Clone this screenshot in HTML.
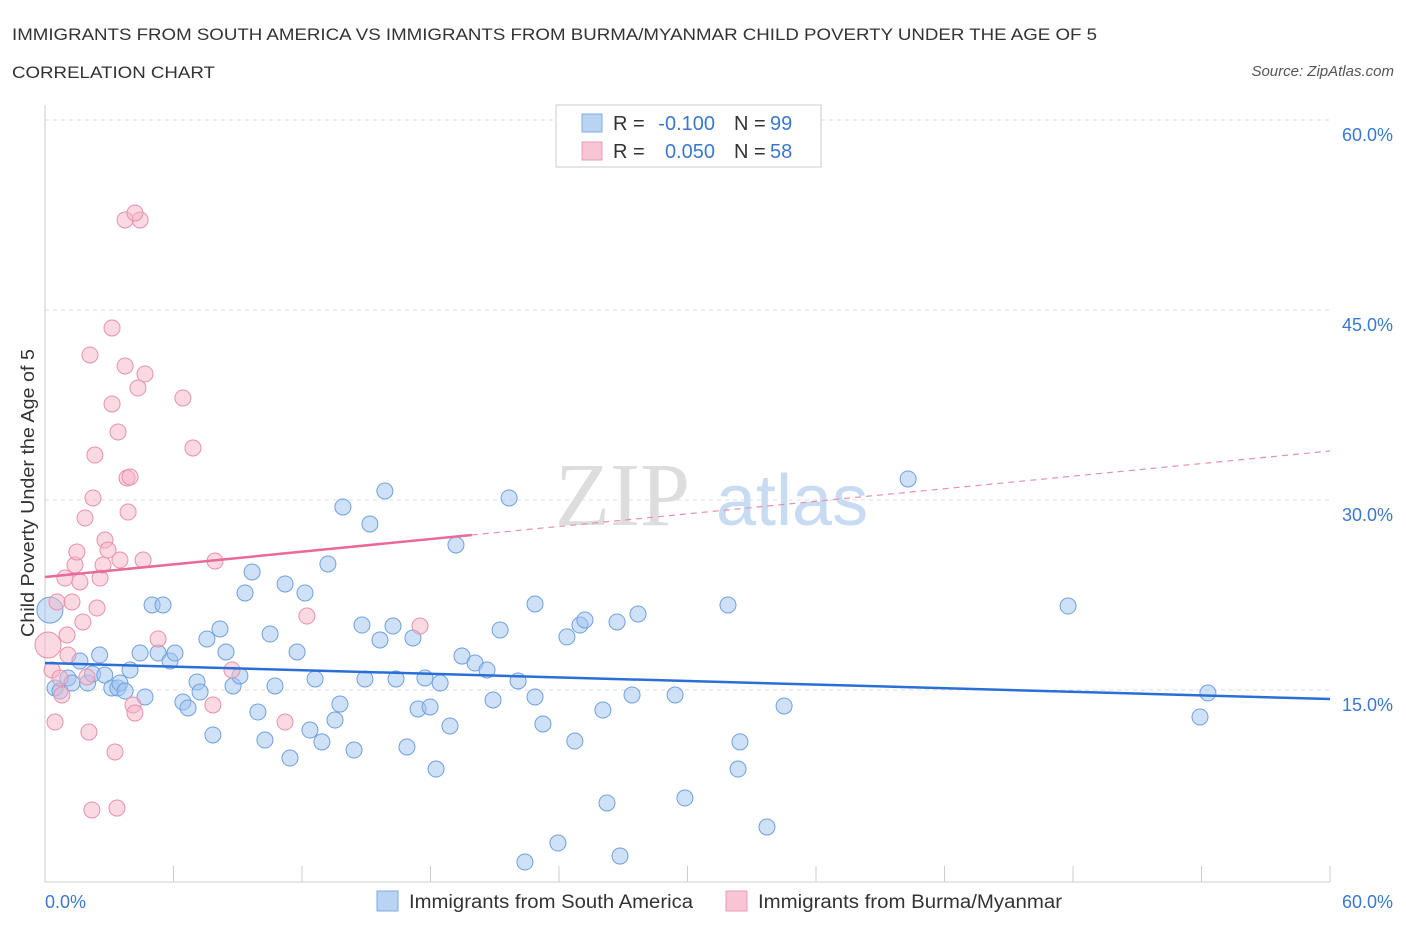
<!DOCTYPE html>
<html><head><meta charset="utf-8"><style>
body{margin:0;background:#fff;font-family:"Liberation Sans",sans-serif}
</style></head><body>
<svg id="chart" width="1406" height="930" xmlns="http://www.w3.org/2000/svg">
<text x="12" y="40" font-size="17" fill="#333" textLength="1085" lengthAdjust="spacingAndGlyphs">IMMIGRANTS FROM SOUTH AMERICA VS IMMIGRANTS FROM BURMA/MYANMAR CHILD POVERTY UNDER THE AGE OF 5</text>
<text x="12" y="78" font-size="17" fill="#333" textLength="203" lengthAdjust="spacingAndGlyphs">CORRELATION CHART</text>
<text x="1394" y="76" font-size="15" fill="#555" font-style="italic" text-anchor="end">Source: ZipAtlas.com</text>
<g><text x="555" y="525" font-size="90" font-family="Liberation Serif,serif" fill="#ddd">ZIP</text><text x="716" y="525" font-size="72" fill="#c7dbf2">atlas</text></g>
<g id="grid"></g><g id="ticks"></g>
<line x1="45" y1="105" x2="45" y2="882" stroke="#ccc"/>
<line x1="45" y1="882" x2="1330" y2="882" stroke="#ccc"/>
<text transform="translate(34,493) rotate(-90)" font-size="18" fill="#333" text-anchor="middle" textLength="288" lengthAdjust="spacingAndGlyphs">Child Poverty Under the Age of 5</text>
<text x="45" y="908" font-size="18" fill="#3a78d0">0.0%</text>
<text x="1393" y="908" font-size="18" fill="#3a78d0" text-anchor="end">60.0%</text>
<g id="pts"></g><g id="lines"></g>
<g>
<rect x="556" y="105" width="265" height="62" fill="#fff" stroke="#ccc"/>
<rect x="582" y="114" width="20" height="18" fill="#b9d3f3" stroke="#7ea9e3"/>
<rect x="582" y="142" width="20" height="18" fill="#f8c5d4" stroke="#ec9ab4"/>
<text x="613" y="130" font-size="20" fill="#333">R =</text>
<text x="715" y="130" font-size="20" fill="#3a78d0" text-anchor="end">-0.100</text>
<text x="734" y="130" font-size="20" fill="#333">N =</text>
<text x="770" y="130" font-size="20" fill="#3a78d0">99</text>
<text x="613" y="158" font-size="20" fill="#333">R =</text>
<text x="715" y="158" font-size="20" fill="#3a78d0" text-anchor="end">0.050</text>
<text x="734" y="158" font-size="20" fill="#333">N =</text>
<text x="770" y="158" font-size="20" fill="#3a78d0">58</text>
</g>
<g>
<rect x="377" y="891" width="21" height="20" fill="#b9d3f3" stroke="#7ea9e3"/>
<text x="409" y="908" font-size="19" fill="#333" textLength="284" lengthAdjust="spacingAndGlyphs">Immigrants from South America</text>
<rect x="726" y="891" width="21" height="20" fill="#f8c5d4" stroke="#ec9ab4"/>
<text x="758" y="908" font-size="19" fill="#333" textLength="304" lengthAdjust="spacingAndGlyphs">Immigrants from Burma/Myanmar</text>
</g>
</svg>
<script>
const yTicks=[15,30,45,60];
const xTicks=[0,6,12,18,24,30,36,42,48,54,60];
const blueX=[0.23,0.47,0.7,1.07,1.26,1.63,1.99,2.22,2.55,2.79,3.12,3.4,3.5,3.74,3.97,4.44,4.67,5.0,5.28,5.51,5.84,6.07,6.44,6.68,7.1,7.24,7.56,7.84,8.17,8.45,8.78,9.1,9.34,9.67,9.94,10.27,10.51,10.74,11.21,11.44,11.77,12.14,12.37,12.61,12.93,13.21,13.54,13.77,13.91,14.43,14.8,14.94,15.17,15.64,15.87,16.25,16.39,16.9,17.18,17.42,17.74,17.98,18.26,18.45,18.91,19.19,19.47,20.08,20.64,20.92,21.25,21.67,22.09,22.41,22.88,22.88,23.25,23.95,24.37,24.74,24.98,25.21,26.05,26.24,26.71,26.85,27.41,27.69,29.42,29.88,31.89,32.36,32.45,33.71,34.51,40.3,47.77,53.93,54.3];
const blueY=[21.31,15.16,14.92,15.95,15.55,17.29,15.55,16.26,17.76,16.18,15.16,15.16,15.55,14.92,16.58,17.92,14.45,21.71,17.92,21.71,17.29,17.92,14.05,13.58,15.63,14.84,19.03,11.45,19.82,18.0,15.32,16.11,22.66,24.32,13.26,11.05,19.42,15.32,23.37,9.63,18.0,22.66,11.84,15.87,10.9,24.95,12.63,13.89,29.45,10.26,20.13,15.87,28.11,18.95,30.71,20.05,15.87,10.5,19.11,13.5,15.95,13.66,8.76,15.55,12.16,26.45,17.68,17.13,16.58,14.21,19.74,30.16,15.71,1.42,14.45,21.79,12.32,2.92,19.19,10.97,20.13,20.53,13.42,6.08,20.37,1.89,14.61,21.0,14.61,6.47,21.71,8.76,10.9,4.18,13.74,31.66,21.63,12.87,14.76];
const pinkX=[0.14,0.33,0.47,0.56,0.7,0.79,0.93,1.03,1.07,1.26,1.4,1.49,1.63,1.77,1.87,1.96,2.05,2.1,2.19,2.24,2.33,2.43,2.57,2.71,2.8,2.94,3.13,3.13,3.27,3.36,3.41,3.5,3.74,3.83,3.88,3.97,4.11,4.2,4.34,4.44,4.58,4.67,3.74,4.2,5.28,6.44,6.91,7.94,7.84,8.73,11.21,12.23,17.51];
const pinkY=[18.55,16.58,12.47,21.95,15.95,14.61,23.84,19.34,17.76,21.95,24.87,25.89,23.53,20.37,28.58,16.03,11.68,41.45,5.53,30.16,33.55,21.47,23.84,24.87,26.84,26.05,43.58,37.58,10.11,5.68,35.37,25.26,40.58,31.74,29.05,31.82,13.82,13.18,38.84,52.11,25.26,39.95,52.11,52.66,19.03,38.05,34.11,25.18,13.82,16.58,12.47,20.84,20.05];
const X=v=>45+v/60*1285, Y=v=>880-v/15*190;
const NS="http://www.w3.org/2000/svg";
function mk(t,a,p){const e=document.createElementNS(NS,t);for(const k in a)e.setAttribute(k,a[k]);p.appendChild(e);return e;}
const grid=document.getElementById('grid'),ticks=document.getElementById('ticks');
yTicks.forEach(v=>{
 const l=mk('line',{x1:45,x2:1330,y1:Y(v),y2:Y(v),stroke:'#ddd','stroke-dasharray':'4,4'},grid);
 
 
 const t=mk('text',{x:1393,y:Y(v)+21,'font-size':18,fill:'#3a78d0','text-anchor':'end'},grid);
 t.textContent=v.toFixed(1)+'%';
 
 
});
xTicks.forEach(v=>{
 const l=mk('line',{x1:X(v),x2:X(v),y1:866,y2:882,stroke:'#ccc'},ticks);
 
 
});
const pts=document.getElementById('pts');
blueX.forEach((x,i)=>{
 const c=mk('circle',{cx:X(x),cy:Y(blueY[i]),r:i==0?13:8,fill:'rgba(160,195,240,0.5)',stroke:'#6fa0e0','stroke-width':1},pts);
 
 
});
pinkX.forEach((x,i)=>{
 const c=mk('circle',{cx:X(x),cy:Y(pinkY[i]),r:i==0?13:8,fill:'rgba(245,180,200,0.5)',stroke:'#e890ab','stroke-width':1},pts);
 
 
});
const lines=document.getElementById('lines');
let a=mk('line',{x1:X(0),y1:Y(17.13),x2:X(60),y2:Y(14.29),stroke:'#2a6fd6','stroke-width':2.5},lines);


let b=mk('line',{x1:X(0),y1:Y(23.92),x2:X(19.93),y2:Y(27.24),stroke:'#e86a96','stroke-width':2.5},lines);


let d=mk('line',{x1:X(19.93),y1:Y(27.24),x2:X(60),y2:Y(33.87),stroke:'#e890ab','stroke-width':1.2,'stroke-dasharray':'6,5'},lines);


</script>
</body></html>
